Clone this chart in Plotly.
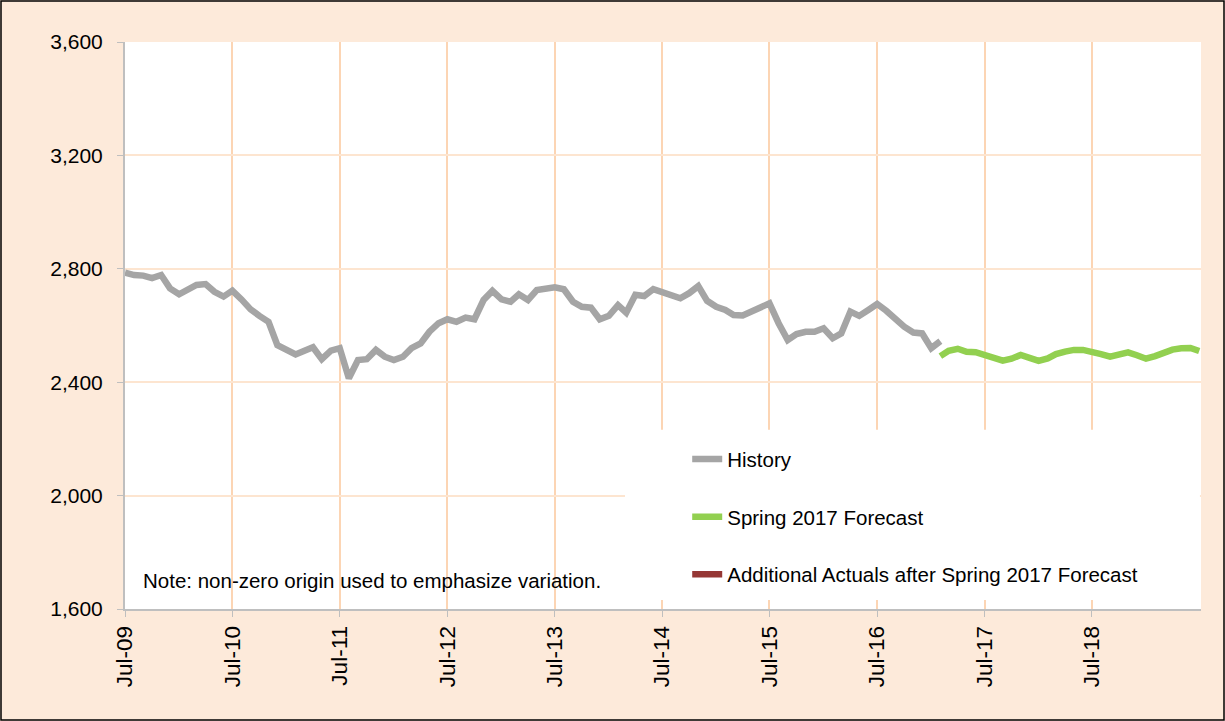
import pandas as pd
import plotly.graph_objects as go

# ---- data ----
history_start = "2009-07-01"
history_values = [
    2786, 2778, 2776, 2767, 2778, 2731, 2710, 2725, 2743, 2746, 2719, 2702,
    2723, 2692, 2657, 2634, 2613, 2531, 2516, 2498, 2510, 2523, 2481, 2511,
    2520, 2414, 2478, 2481, 2514, 2490, 2478, 2490, 2520, 2537, 2578, 2608,
    2622, 2613, 2628, 2622, 2690, 2722, 2692, 2684, 2710, 2690, 2725, 2728,
    2735, 2728, 2684, 2666, 2663, 2622, 2634, 2672, 2645, 2708, 2704, 2728,
    2719, 2708, 2696, 2714, 2739, 2687, 2666, 2655, 2637, 2635, 2649, 2663,
    2678, 2608, 2549, 2570, 2578, 2578, 2590, 2555, 2572, 2649, 2634, 2655,
    2676, 2652, 2622, 2596, 2575, 2572, 2520, 2545,
]
forecast_start = "2017-02-01"
forecast_values = [
    2492, 2511, 2518, 2507, 2506, 2496, 2486, 2476, 2483, 2496, 2486, 2475,
    2484, 2499, 2508, 2514, 2514, 2509, 2499, 2490, 2496, 2505, 2495, 2483,
    2492, 2504, 2515, 2520, 2521, 2510,
]

tick_dates = ["2009-07-01", "2010-07-01", "2011-07-01", "2012-07-01", "2013-07-01",
              "2014-07-01", "2015-07-01", "2016-07-01", "2017-07-01", "2018-07-01"]
tick_labels = ["Jul-09", "Jul-10", "Jul-11", "Jul-12", "Jul-13",
               "Jul-14", "Jul-15", "Jul-16", "Jul-17", "Jul-18"]
y_ticks = [1600, 2000, 2400, 2800, 3200, 3600]

history_dates = pd.date_range(history_start, periods=len(history_values), freq="MS")
forecast_dates = pd.date_range(forecast_start, periods=len(forecast_values), freq="MS")

FONT = "Liberation Sans, Arial, sans-serif"
PEACH = "#FDEADA"

fig = go.Figure()
fig.add_trace(go.Scatter(x=history_dates, y=history_values, mode="lines",
                         name="History", legendgroup="a",
                         line=dict(color="#A5A5A5", width=6.5)))
fig.add_trace(go.Scatter(x=forecast_dates, y=forecast_values, mode="lines",
                         name="Spring 2017 Forecast", legendgroup="b",
                         line=dict(color="#92D050", width=6.5)))
fig.add_trace(go.Scatter(x=[None], y=[None], mode="lines",
                         name="Additional Actuals after Spring 2017 Forecast", legendgroup="c",
                         line=dict(color="#953735", width=6.5)))

# white box behind legend (legend itself is drawn on top of shapes)
fig.add_shape(type="rect", xref="paper", yref="paper", x0=0.4647, x1=0.999, y0=0.016, y1=0.316,
              fillcolor="white", line=dict(width=0), layer="above")
# outer border
fig.add_shape(type="rect", xref="paper", yref="paper",
              x0=-124/1076, x1=1 + 23/1076, y0=-111/567, y1=1 + 41/567,
              line=dict(color="black", width=1.5), fillcolor="rgba(0,0,0,0)", layer="above")

fig.add_annotation(text="Note: non-zero origin used to emphasize variation.",
                   xref="paper", yref="paper", x=0.0149, y=0.051,
                   xanchor="left", yanchor="middle", showarrow=False,
                   font=dict(family=FONT, size=20.5, color="black"))

fig.update_layout(
    width=1225, height=721,
    margin=dict(l=125, r=24, t=42, b=112),
    paper_bgcolor=PEACH, plot_bgcolor="white",
    font=dict(family=FONT, size=20, color="black"),
    showlegend=True,
    legend=dict(x=0.5225, y=0.2994, xanchor="left", yanchor="top",
                bgcolor="rgba(0,0,0,0)", tracegroupgap=28,
                font=dict(family=FONT, size=20.5, color="black")),
    xaxis=dict(type="date", range=["2009-07-01", "2019-07-07"],
               tickvals=tick_dates, ticktext=tick_labels, tickangle=-90,
               showgrid=True, gridcolor="#FCD5B4", gridwidth=2,
               showline=True, linecolor="#BFBFBF", linewidth=2,
               ticks="outside", ticklen=6, tickcolor="#BFBFBF",
               tickfont=dict(family=FONT, size=22.5, color="black"), zeroline=False),
    yaxis=dict(range=[1600, 3600], tickvals=y_ticks, tickformat=",",
               showgrid=True, gridcolor="#FDE5D0", gridwidth=1.5,
               showline=True, linecolor="#BFBFBF", linewidth=2,
               ticks="outside", ticklen=6, tickcolor="#BFBFBF", ticklabelstandoff=10,
               tickfont=dict(family=FONT, size=21, color="black"), zeroline=False),
)

fig.write_html("out.html", config={"displayModeBar": False},
               post_script="document.body.style.margin='0';")
